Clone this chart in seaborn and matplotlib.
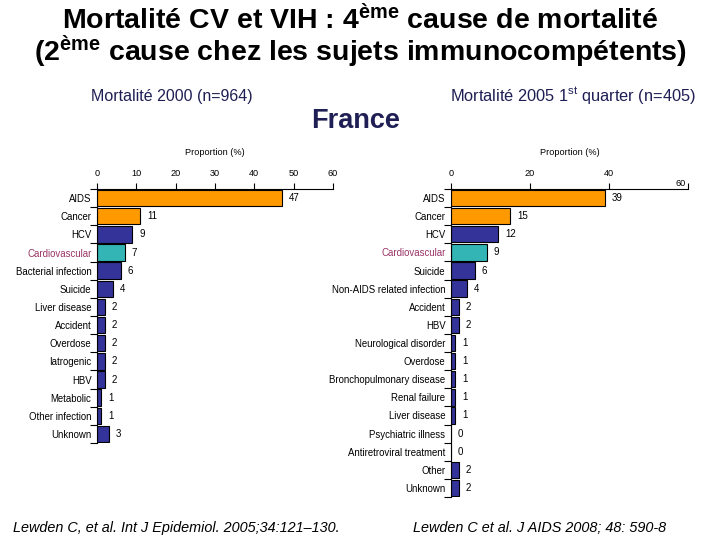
import numpy as np
import matplotlib.pyplot as plt
import seaborn as sns
from matplotlib.transforms import ScaledTranslation

# Mortality 2000 (left panel)
left_causes = ["AIDS", "Cancer", "HCV", "Cardiovascular", "Bacterial infection",
               "Suicide", "Liver disease", "Accident", "Overdose", "Iatrogenic",
               "HBV", "Metabolic", "Other infection", "Unknown"]
left_pct = [47, 11, 9, 7, 6, 4, 2, 2, 2, 2, 2, 1, 1, 3]
left_ticks = [0, 10, 20, 30, 40, 50, 60]

# Mortality 2005 1st quarter (right panel)
right_causes = ["AIDS", "Cancer", "HCV", "Cardiovascular", "Suicide",
                "Non-AIDS related infection", "Accident", "HBV",
                "Neurological disorder", "Overdose", "Bronchopulmonary disease",
                "Renal failure", "Liver disease", "Psychiatric illness",
                "Antiretroviral treatment", "Other", "Unknown"]
right_pct = [39, 15, 12, 9, 6, 4, 2, 2, 1, 1, 1, 1, 1, 0, 0, 2, 2]
right_ticks = [0, 20, 40, 60]

ORANGE = '#FF9900'
NAVY = '#333399'
TEAL = '#33B5B5'
NAVY_TEXT = '#1F1F55'
CV_TEXT = '#993366'

sns.set_style('white')
plt.rcParams['font.family'] = ['Liberation Sans', 'DejaVu Sans']
plt.rcParams['mathtext.default'] = 'regular'
for key in ('text.color', 'axes.labelcolor', 'xtick.color', 'ytick.color'):
    plt.rcParams[key] = 'black'


def bar_color(cause):
    if cause in ("AIDS", "Cancer"):
        return ORANGE
    if cause == "Cardiovascular":
        return TEAL
    return NAVY


def draw_panel(ax, causes, pct, ticks):
    palette = {c: bar_color(c) for c in causes}
    sns.barplot(x=pct, y=causes, hue=causes, palette=palette, legend=False,
                orient='h', width=0.9, saturation=1, edgecolor='black',
                linewidth=0.8, ax=ax)
    for cont in ax.containers:
        ax.bar_label(cont, fmt='%d', padding=5, fontsize=7)

    ax.set_xlim(0, 60)
    ax.set_xticks(ticks)
    ax.xaxis.tick_top()
    ax.xaxis.set_label_position('top')
    ax.set_xlabel('Proportion (%)', fontsize=6.6, labelpad=10)
    ax.set_ylabel('')
    sns.despine(ax=ax, top=False, right=True, bottom=True, left=False)
    for side in ('top', 'left'):
        ax.spines[side].set_linewidth(0.8)
        ax.spines[side].set_color('black')

    ax.set_yticks(np.arange(len(causes) + 1) - 0.5, minor=True)
    ax.tick_params(axis='y', which='major', length=0, pad=4, labelsize=6.9)
    ax.tick_params(axis='y', which='minor', length=5, width=0.8,
                   direction='out', color='black', left=True)
    ax.tick_params(axis='x', length=4, width=0.8, pad=4, labelsize=6.6,
                   color='black', top=True)
    for lab in ax.get_yticklabels():
        if lab.get_text() == "Cardiovascular":
            lab.set_color(CV_TEXT)


fig = plt.figure(figsize=(7.2, 5.4), dpi=100)
ax_l = fig.add_axes([97 / 720, 1 - 443 / 540, 236 / 720, 254 / 540])
ax_r = fig.add_axes([451 / 720, 1 - 497 / 540, 237 / 720, 308 / 540])

draw_panel(ax_l, left_causes, left_pct, left_ticks)
draw_panel(ax_r, right_causes, right_pct, right_ticks)

# the "60" on the right panel sits lower, left of its tick
lab60 = ax_r.xaxis.get_major_ticks()[-1].label2
lab60.set_transform(lab60.get_transform()
                    + ScaledTranslation(-5 / 72, -7 / 72, fig.dpi_scale_trans))

fig.text(0.5, 1 - 20 / 540, 'Mortalité CV et VIH : 4$^{ème}$ cause de mortalité',
         ha='center', va='center', fontsize=20.5, fontweight='bold')
fig.text(0.5, 1 - 52 / 540, '(2$^{ème}$ cause chez les sujets immunocompétents)',
         ha='center', va='center', fontsize=20.5, fontweight='bold')

fig.text(172 / 720, 1 - 97 / 540, 'Mortalité 2000 (n=964)', ha='center',
         va='center', fontsize=11.5, color=NAVY_TEXT)
fig.text(573 / 720, 1 - 96 / 540, 'Mortalité 2005 1$^{st}$ quarter (n=405)',
         ha='center', va='center', fontsize=11.8, color=NAVY_TEXT)
fig.text(356 / 720, 1 - 121 / 540, 'France', ha='center', va='center',
         fontsize=19.5, fontweight='bold', color=NAVY_TEXT)

fig.text(176 / 720, 1 - 528 / 540, 'Lewden C, et al. Int J Epidemiol. 2005;34:121–130.',
         ha='center', va='center', fontsize=10.4, style='italic')
fig.text(540 / 720, 1 - 528 / 540, 'Lewden C et al. J AIDS 2008; 48: 590-8',
         ha='center', va='center', fontsize=10.4, style='italic')

fig.savefig('out.png', dpi=100)
